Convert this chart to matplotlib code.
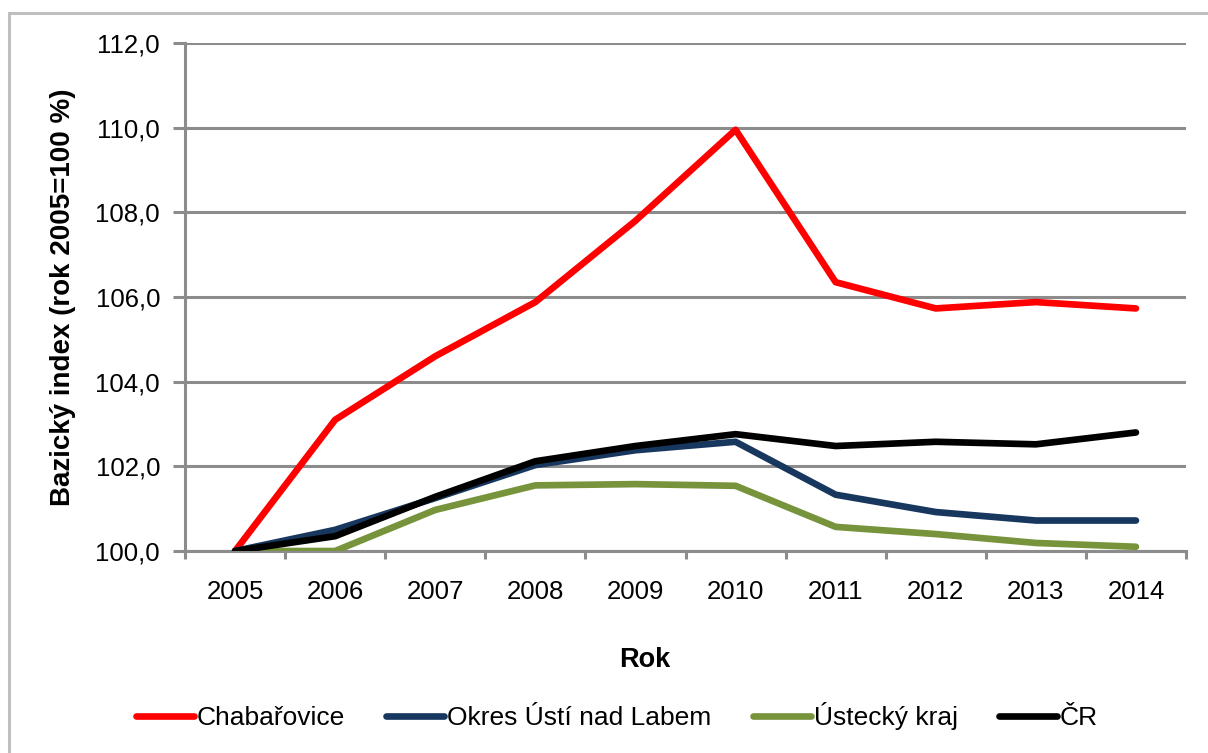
import matplotlib

matplotlib.use("Agg")
import matplotlib.pyplot as plt  # noqa: E402
from matplotlib.patches import Rectangle  # noqa: E402

plt.rcParams["font.family"] = ["Liberation Sans", "DejaVu Sans"]

years = ["2005", "2006", "2007", "2008", "2009", "2010", "2011", "2012", "2013", "2014"]
chabarovice = [100.0, 103.1, 104.6, 105.88, 107.8, 109.95, 106.35, 105.73, 105.88, 105.73]
okres_usti = [100.0, 100.5, 101.25, 102.03, 102.38, 102.58, 101.33, 100.92, 100.72, 100.72]
ustecky_kraj = [100.0, 100.0, 100.97, 101.55, 101.58, 101.54, 100.57, 100.4, 100.19, 100.1]
cr = [100.0, 100.35, 101.28, 102.12, 102.48, 102.76, 102.48, 102.58, 102.52, 102.8]

series = [
    ("Chabařovice", chabarovice, "#ff0000"),
    ("Okres Ústí nad Labem", okres_usti, "#17375e"),
    ("Ústecký kraj", ustecky_kraj, "#77933c"),
    ("ČR", cr, "#000000"),
]

W, H = 1208, 753
fig = plt.figure(figsize=(W / 100, H / 100), dpi=100)
fig.patches.append(Rectangle((9 / W, -0.05), 1.2, 1 - 13 / H + 0.05, transform=fig.transFigure,
                             fill=False, edgecolor="#bfbfbf", linewidth=2.2))

ax = fig.add_axes([185 / W, 1 - 551 / H, (1186 - 185) / W, (551 - 43) / H])
x = list(range(len(years)))
for label, vals, color in series:
    ax.plot(x, vals, color=color, linewidth=4.8, label=label, solid_capstyle="round",
            solid_joinstyle="round", zorder=3)

ax.set_xlim(-0.5, len(years) - 0.5)
ax.set_ylim(100, 112)
ax.set_yticks([100, 102, 104, 106, 108, 110, 112])
ax.set_yticklabels([f"{v:.1f}".replace(".", ",") for v in ax.get_yticks()], fontsize=18.5)
ax.set_xticks(x)
ax.set_xticklabels(years, fontsize=18.5)
ax.set_xticks([i - 0.5 for i in range(len(years) + 1)], minor=True)
ax.tick_params(axis="x", which="major", length=0, pad=21)
ax.tick_params(axis="x", which="minor", length=6, width=2.2, color="#8c8c8c")
ax.tick_params(axis="y", length=9, width=2.2, color="#8c8c8c", pad=9)
ax.yaxis.grid(True, color="#8c8c8c", linewidth=2.2)
ax.set_axisbelow(True)
for side in ("top", "right"):
    ax.spines[side].set_visible(False)
for side in ("left", "bottom"):
    ax.spines[side].set_color("#8c8c8c")
    ax.spines[side].set_linewidth(2.2)

ax.set_ylabel("Bazický index (rok 2005=100 %)", fontsize=20, fontweight="bold", labelpad=14)
fig.text(645 / W, 1 - 660 / H, "Rok", fontsize=19.5, fontweight="bold", ha="center", va="center")

fig.legend(loc="center", bbox_to_anchor=(617 / W, 1 - 716 / H), ncol=4, frameon=False,
           fontsize=19, handlelength=2.2, handletextpad=0.12, columnspacing=1.55)

fig.savefig("out.png", dpi=100)
